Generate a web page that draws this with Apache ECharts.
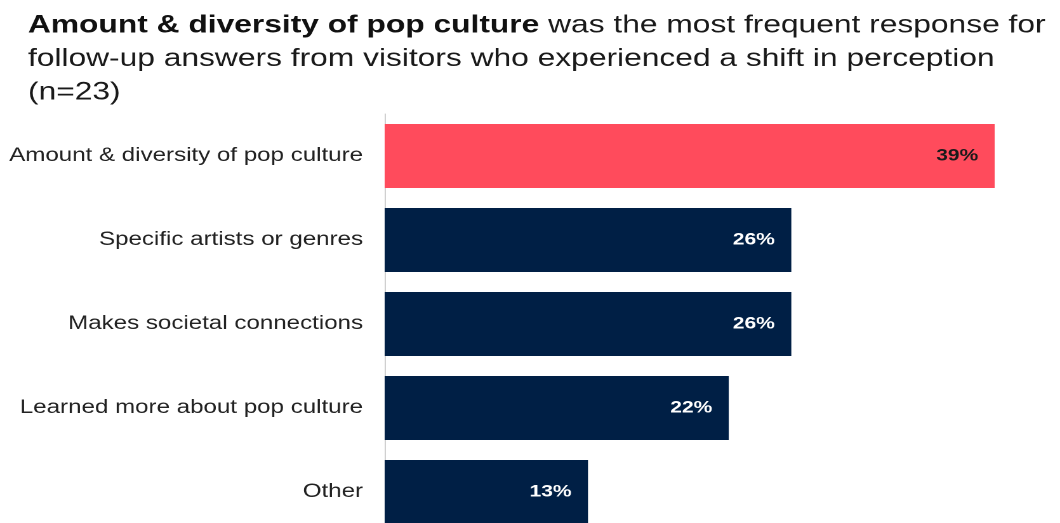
<!DOCTYPE html>
<html>
<head>
<meta charset="utf-8">
<script src="https://cdn.jsdelivr.net/npm/echarts@6/dist/echarts.min.js"></script>
<style>
  html, body { margin: 0; padding: 0; background: #fff; overflow: hidden; height: 523px; }
  /* The slide artwork uses a horizontally widened type face; the chart is
     laid out at 835px and stretched across the 1060px frame. The last
     row runs past the bottom edge of the frame. */
  #chart {
    width: 835px;
    height: 545px;
    transform: scaleX(1.2695);
    transform-origin: 0 0;
  }
</style>
</head>
<body>
<div id="chart"></div>
<script>
// Follow-up reasons among visitors whose perception shifted (n=23)
const categories = [
  'Amount & diversity of pop culture',
  'Specific artists or genres',
  'Makes societal connections',
  'Learned more about pop culture',
  'Other'
];
const shares = [39, 26, 26, 22, 13];   // percent of respondents
const highlightIndex = 0;             // top answer shown in red

const RED = '#FF4B5C';
const NAVY = '#001F45';
const FONT = 'Liberation Sans, Arial, sans-serif';

const chart = echarts.init(document.getElementById('chart'), null, {
  renderer: 'canvas',
  devicePixelRatio: 2
});

chart.setOption({
  animation: false,
  backgroundColor: '#ffffff',
  title: {
    left: 22,
    top: 9,
    padding: 0,
    text: '{b|Amount & diversity of pop culture} was the most frequent response for\n' +
          'follow-up answers from visitors who experienced a shift in perception\n' +
          '(n=23)',
    textStyle: {
      fontFamily: FONT,
      fontSize: 25,
      fontWeight: 'normal',
      color: '#1a1a1a',
      lineHeight: 33.5,
      rich: {
        b: { fontFamily: FONT, fontSize: 25, fontWeight: 'bold', color: '#111111', lineHeight: 33.5 }
      }
    }
  },
  grid: {
    left: 303,
    top: 114,
    width: 480.5,
    height: 420,
    containLabel: false
  },
  xAxis: {
    type: 'value',
    min: 0,
    max: 39,
    show: false
  },
  yAxis: {
    type: 'category',
    inverse: true,
    data: categories,
    axisLine: { show: true, lineStyle: { color: '#d0d0d0', width: 1 } },
    axisTick: { show: false },
    axisLabel: {
      margin: 17,
      fontFamily: FONT,
      fontSize: 19,
      color: '#222222'
    }
  },
  series: [{
    type: 'bar',
    barWidth: 64,
    data: shares.map((v, i) => ({
      value: v,
      itemStyle: { color: i === highlightIndex ? RED : NAVY },
      label: { color: i === highlightIndex ? '#1a1a1a' : '#ffffff' }
    })),
    label: {
      show: true,
      position: 'insideRight',
      distance: 13,
      fontFamily: FONT,
      fontSize: 16.5,
      fontWeight: 'bold',
      formatter: p => p.value + '%'
    }
  }]
});
</script>
</body>
</html>
